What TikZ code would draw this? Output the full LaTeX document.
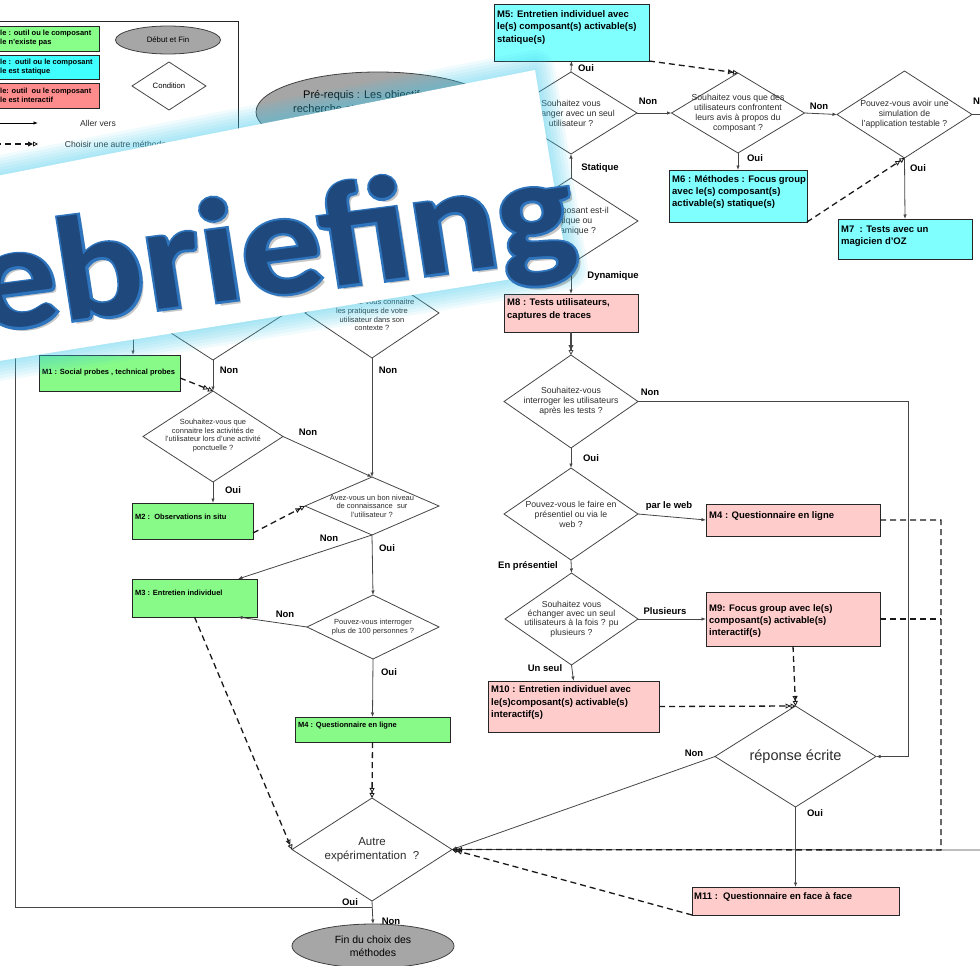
\documentclass[tikz,border=0pt]{standalone}
\usepackage{fontspec}
\setmainfont{Liberation Sans}
\newfontfamily\bannerfill{Carlito}
\newfontfamily\banneredge{Carlito}[BoldFeatures={FakeBold=3}]
\usetikzlibrary{arrows.meta, calc, shapes.geometric, positioning}

\definecolor{boxgreen}{RGB}{136,250,136}
\definecolor{boxcyan}{RGB}{128,255,255}
\definecolor{boxpink}{RGB}{255,204,204}
\definecolor{keygreen}{RGB}{136,255,136}
\definecolor{keycyan}{RGB}{64,255,255}
\definecolor{keyred}{RGB}{255,140,140}
\definecolor{ovalgray}{RGB}{166,166,166}
\definecolor{glowcyan}{RGB}{60,200,235}
\definecolor{bannerblue}{RGB}{31,73,125}
\definecolor{banneredgeblue}{RGB}{46,117,190}
\definecolor{inkgray}{RGB}{70,70,70}
\definecolor{qink}{RGB}{45,45,45}

\tikzset{
  cond/.style={diamond, draw=inkgray, line width=0.8pt, fill=white, inner sep=0pt, outer sep=0pt},
  qtext/.style={align=center, inner sep=0pt, text=qink, font=\fontsize{8.7}{10}\selectfont},
  qsmall/.style={align=center, inner sep=0pt, text=qink, font=\fontsize{7.5}{8.8}\selectfont},
  method/.style={rectangle, draw=black!85, line width=0.9pt, inner sep=0pt, outer sep=0pt},
  mtext/.style={anchor=north west, align=left, inner xsep=3pt, font=\bfseries\fontsize{9.5}{12.5}\selectfont},
  msmall/.style={anchor=north west, align=left, inner xsep=3pt, font=\bfseries\fontsize{7.5}{9}\selectfont},
  keytext/.style={anchor=west, align=left, inner sep=0pt, font=\bfseries\fontsize{7.5}{9}\selectfont},
  keylab/.style={inner sep=0pt, text=qink, font=\fontsize{8.6}{10}\selectfont},
  oval/.style={ellipse, draw=black!75, line width=0.8pt, fill=ovalgray, inner sep=0pt, outer sep=0pt},
  lab/.style={inner sep=0pt, font=\bfseries\fontsize{9.5}{11}\selectfont},
  flow/.style={draw=inkgray, line width=0.8pt, -{Latex[length=4.5pt, width=3.5pt]}},
  plain/.style={draw=inkgray, line width=0.8pt},
  other/.style={draw=black!90, line width=1.3pt, dash pattern=on 6pt off 4pt,
    -{Triangle[open, length=5pt, width=5pt, line width=0.8pt] Triangle[open, length=5pt, width=5pt, line width=0.8pt]}},
  otherline/.style={draw=black!90, line width=1.3pt, dash pattern=on 6pt off 4pt},
  othersolid/.style={draw=inkgray, line width=1.2pt,
    -{Triangle[open, length=5pt, width=5pt, line width=0.8pt] Triangle[open, length=5pt, width=5pt, line width=0.8pt]}},
  bannertext/.style={anchor=base west, inner sep=0pt, xscale=1.1, rotate=8},
}

\begin{document}
\begin{tikzpicture}[x=1pt, y=-1pt]
\useasboundingbox (0,0) rectangle (980,966);
\clip (0,0) rectangle (980,966);

% Legend
\draw[black!85, line width=0.8pt] (-5,21) rectangle (238,200);
\node[method, fill=keygreen, minimum width=106, minimum height=25] (kgreen) at (46,38.5) {};
\node[method, fill=keycyan, minimum width=106, minimum height=24] (kcyan) at (46,67) {};
\node[method, fill=keyred, minimum width=106, minimum height=25] (kred) at (46,95.5) {};
\node[keytext] (kgreentxt) at (0,38.5) {le : outil ou le composant\\le n'existe pas};
\node[keytext] (kcyantxt) at (0,67) {le :\ \ outil ou le composant\\le est statique};
\node[keytext] (kredtxt) at (0,95.5) {le: outil\ \ ou le composant\\le est interactif};
\node[oval, minimum width=105, minimum height=28, font=\fontsize{7.8}{9}\selectfont] (kstart) at (168,40) {Début et Fin};
\node[cond, minimum width=74, minimum height=48, font=\fontsize{7.7}{9}\selectfont] (kcond) at (169,86) {Condition};
\coordinate (ksolidA) at (-5,123);
\coordinate (ksolidB) at (38,123);
\draw[flow, draw=black] (ksolidA) -- (ksolidB);
\node[keylab] (kaller) at (98,123) {Aller vers};
\coordinate (kdashA) at (-5,144);
\coordinate (kdashB) at (38,144);
\draw[other] (kdashA) -- (kdashB);
\node[keylab] (kchoix) at (115.5,144) {Choisir une autre méthode};

% Pre-requis
\node[oval, minimum width=244, minimum height=80] (prereq) at (378,112) {};
\node[anchor=base west, inner sep=0pt, font=\fontsize{11}{13}\selectfont] (pretitle) at (303,99) {Pré-requis : Les objectifs de la};
\node[anchor=base west, inner sep=0pt, font=\fontsize{11}{13}\selectfont] (preline) at (293,112) {recherche et des};

% Right column: static / dynamic components
\node[method, fill=boxcyan, minimum width=155, minimum height=57,
  label={[mtext, inner ysep=6pt]north west:{M5: Entretien individuel avec\\le(s) composant(s) activable(s)\\statique(s)}}] (m5) at (571.5,32.5) {};
\node[cond, minimum width=132, minimum height=82,
  label={[qtext]center:{Souhaitez vous\\échanger avec un seul\\utilisateur ?}}] (dseul) at (571,113) {};
\node[cond, minimum width=133, minimum height=80,
  label={[qtext]center:{Souhaitez vous que des\\utilisateurs confrontent\\leurs avis à propos du\\composant ?}}] (dconfront) at (738,113) {};
\node[cond, minimum width=135, minimum height=87,
  label={[qtext]center:{Pouvez-vous avoir une\\simulation de\\l'application testable ?}}] (dsimul) at (904.5,114.5) {};
\node[method, fill=boxcyan, minimum width=138, minimum height=52,
  label={[mtext, inner ysep=5.5pt, font=\bfseries\fontsize{9.5}{12}\selectfont]north west:{M6 : Méthodes : Focus group\\avec le(s) composant(s)\\activable(s) statique(s)}}] (m6) at (738,196) {};
\node[method, fill=boxcyan, minimum width=134, minimum height=40,
  label={[mtext, inner ysep=6.5pt]north west:{M7\ \ : Tests avec un\\magicien d'OZ}}] (m7) at (905,239) {};
\node[cond, minimum width=134, minimum height=86,
  label={[qtext]center:{Le composant est-il\\statique ou\\dynamique ?}}] (dstat) at (571,221) {};

% Right column: interactive components
\node[method, fill=boxpink, minimum width=134, minimum height=38,
  label={[mtext, inner ysep=4.5pt]north west:{M8 : Tests utilisateurs,\\captures de traces}}] (m8) at (571,313) {};
\node[cond, minimum width=134, minimum height=93,
  label={[qtext]center:{Souhaitez-vous\\interroger les utilisateurs\\après les tests ?}}] (dinterr) at (571,401.5) {};
\node[cond, minimum width=134, minimum height=92,
  label={[qtext]center:{Pouvez-vous le faire en\\présentiel ou via le\\web ?}}] (dweb) at (571,514) {};
\node[method, fill=boxpink, minimum width=174, minimum height=32,
  label={[mtext, inner ysep=7.5pt]north west:{M4 : Questionnaire en ligne}}] (m4web) at (793,520) {};
\node[cond, minimum width=133, minimum height=92,
  label={[qtext, font=\fontsize{8.7}{9.3}\selectfont]center:{Souhaitez vous\\échanger avec un seul\\utilisateurs à la fois ? pu\\plusieurs ?}}] (dplus) at (571.5,619) {};
\node[method, fill=boxpink, minimum width=174, minimum height=54,
  label={[mtext, inner ysep=12.5pt, font=\bfseries\fontsize{9.5}{12}\selectfont]north west:{M9: Focus group avec le(s)\\composant(s) activable(s)\\interactif(s)}}] (m9) at (793,619) {};
\node[method, fill=boxpink, minimum width=171, minimum height=51,
  label={[mtext, inner ysep=4.5pt]north west:{M10 : Entretien individuel avec\\le(s)composant(s) activable(s)\\interactif(s)}}] (m10) at (573.5,706.5) {};
\node[cond, minimum width=161, minimum height=101,
  label={[qtext, font=\fontsize{14.5}{16}\selectfont]center:{réponse écrite}}] (drep) at (795.5,756.5) {};
\node[method, fill=boxpink, minimum width=207, minimum height=28,
  label={[mtext, inner ysep=5.5pt, inner xsep=2pt]north west:{M11 :\ \ Questionnaire en face à face}}] (m11) at (795.5,901) {};

% Left column
\node[cond, minimum width=140, minimum height=90] (dprobe) at (213,315) {};
\node[cond, minimum width=134, minimum height=90,
  label={[qsmall, yshift=-2pt]center:{Souhaitez-vous connaitre\\les pratiques de votre\\utilisateur dans son\\contexte ?}}] (dpratique) at (372,313) {};
\node[method, fill=boxgreen, minimum width=141, minimum height=36,
  label={[msmall, anchor=west]west:{M1 : Social probes , technical probes}}] (m1) at (109.5,373) {};
\node[cond, minimum width=140, minimum height=91,
  label={[qsmall, yshift=1pt]center:{Souhaitez-vous que\\connaitre les activités de\\l'utilisateur lors d'une activité\\ponctuelle ?}}] (dponct) at (213,436.5) {};
\node[method, fill=boxgreen, minimum width=121, minimum height=36,
  label={[msmall, inner ysep=11pt]north west:{M2 :\ \ Observations in situ}}] (m2) at (192.5,521) {};
\node[cond, minimum width=134, minimum height=58,
  label={[qsmall, font=\fontsize{7.5}{8.5}\selectfont]center:{Avez-vous un bon niveau\\de connaissance\ \ sur\\l'utilisateur ?}}] (dconn) at (372,506) {};
\node[method, fill=boxgreen, minimum width=125, minimum height=38,
  label={[msmall, inner ysep=11pt]north west:{M3 : Entretien individuel}}] (m3) at (194.5,598) {};
\node[cond, minimum width=132, minimum height=64,
  label={[qsmall, font=\fontsize{7.5}{8.5}\selectfont]center:{Pouvez-vous interroger\\plus de 100 personnes ?}}] (dcent) at (373,627) {};
\node[method, fill=boxgreen, minimum width=155, minimum height=25,
  label={[msmall, inner ysep=5pt]north west:{M4 : Questionnaire en ligne}}] (m4line) at (372.5,729.5) {};
\node[cond, minimum width=160, minimum height=103,
  label={[qtext, font=\fontsize{11.5}{14}\selectfont]center:{Autre\\expérimentation\ \ ?}}] (autre) at (372,849.5) {};
\node[oval, minimum width=162, minimum height=44, align=center, font=\fontsize{10.5}{13}\selectfont] (fin) at (373,946) {Fin du choix des\\méthodes};

% Free ends
\coordinate (simulout) at (990,114.5);
\coordinate (interrturn) at (908,756.5);
\coordinate (dashturn) at (941,850);
\coordinate (rightin) at (990,850);
\coordinate (loopleft) at (15,907);
\coordinate (loopup) at (15,330);
\coordinate (probein) at (133,322);

% Connectors, right
\draw[flow] (dseul.north) -- (m5.south);
\draw[other] (m5.south east) -- (dconfront.north);
\draw[flow] (dseul.east) -- (dconfront.west);
\draw[flow] (dconfront.east) -- (dsimul.west);
\draw[flow] (dconfront.south) -- (m6.north);
\draw[other] (m6.south east) -- (dsimul.south);
\draw[flow] (dsimul.south) -- (m7.north);
\draw[plain] (dsimul.east) -- (simulout);
\draw[flow] (dstat.north) -- (dseul.south);
\draw[flow] (dstat.south) -- (m8.north);
\draw[othersolid] (m8.south) -- (dinterr.north);
\draw[flow] (dinterr.east) -| (interrturn) -- (drep.east);
\draw[flow] (dinterr.south) -- (dweb.north);
\draw[flow] (dweb.east) -- (m4web.west);
\draw[flow] (dweb.south) -- (dplus.north);
\draw[flow] (dplus.east) -- (m9.west);
\draw[flow] (dplus.south) -- (m10.north);
\draw[flow] (rightin) -- (autre.east);
\draw[other] (m4web.east) -| (dashturn) -- (autre.east);
\draw[otherline] (m9.east) -- (m9.east -| dashturn);
\draw[other] (m9.south) -- (drep.north);
\draw[other] (m10.east) -- (drep.north);
\draw[flow] (drep.west) -- (autre.east);
\draw[flow] (drep.south) -- (m11.north);
\draw[other] (m11.south west) -- (autre.east);

% Connectors, left
\draw[flow] (dprobe.south) -- (dponct.north);
\draw[flow] (probein) -- (probein |- m1.north);
\draw[other] ([yshift=-5pt]m1.east) -- (dponct.north);
\draw[flow] (dpratique.south) -- (dconn.north);
\draw[flow] (dponct.east) -- (dconn.north);
\draw[flow] (dponct.south) -- (dponct.south |- m2.north);
\draw[other] ([yshift=6pt]m2.south east) -- (dconn.west);
\draw[flow] (dconn.south) -- ([xshift=-19pt]m3.north east);
\draw[flow] (dconn.south) -- (dcent.north);
\draw[flow] (dcent.west) -- ([xshift=-19pt]m3.south east);
\draw[flow] (dcent.south) -- (m4line.north);
\draw[other] (m4line.south) -- (autre.north);
\draw[other] (m3.south) -- (autre.west);
\draw[flow] (autre.south) -- (fin.north);
\draw[plain] (autre.south |- loopleft) -- (loopleft) -- (loopup);

% Branch labels
\node[lab] (lseuloui) at (586,68) {Oui};
\node[lab] (lseulnon) at (648,101) {Non};
\node[lab] (lconfnon) at (819,106) {Non};
\node[lab, anchor=west] (lsimulnon) at (973,101) {Non};
\node[lab] (lconfoui) at (755,158) {Oui};
\node[lab] (lsimuloui) at (918,168) {Oui};
\node[lab] (lstatique) at (600,168) {Statique};
\node[lab] (ldynamique) at (613,276) {Dynamique};
\node[lab] (linterrnon) at (650,392) {Non};
\node[lab] (linterroui) at (591,458) {Oui};
\node[lab] (lweb) at (669,506) {par le web};
\node[lab] (lpresentiel) at (528,566) {En présentiel};
\node[lab] (lplusieurs) at (665,611) {Plusieurs};
\node[lab] (lunseul) at (545,668) {Un seul};
\node[lab] (lrepnon) at (694,753) {Non};
\node[lab] (lrepoui) at (815,813) {Oui};
\node[lab] (lprobenon) at (229,370) {Non};
\node[lab] (lpratnon) at (388,370) {Non};
\node[lab] (lponctnon) at (308,432) {Non};
\node[lab] (lponctoui) at (233,490) {Oui};
\node[lab] (lconnnon) at (329,538) {Non};
\node[lab] (lconnoui) at (387,548) {Oui};
\node[lab] (lcentnon) at (285,614) {Non};
\node[lab] (lcentoui) at (389,672) {Oui};
\node[lab] (lautreoui) at (350,902) {Oui};
\node[lab] (lautrenon) at (391,921) {Non};

% Banner
\coordinate (bTL) at (-120,199);
\coordinate (bTR) at (535,70);
\coordinate (bBR) at (568,270);
\coordinate (bBL) at (-120,380);
\foreach \w in {40,34,...,4}
  \draw[glowcyan, line width=\w pt, opacity=0.08, line join=round] (bTL) -- (bTR) -- (bBR) -- (bBL) -- cycle;
\fill[white] (bTL) -- (bTR) -- (bBR) -- (bBL) -- cycle;
\node[bannertext, text=black, opacity=0.22, font=\bannerfill\bfseries\fontsize{148}{148}\selectfont] (bannershadow) at (-115,349) {Debriefing};
\node[bannertext, text=banneredgeblue, font=\banneredge\bfseries\fontsize{148}{148}\selectfont] (bannerrim) at (-119,345) {Debriefing};
\node[bannertext, text=bannerblue, font=\bannerfill\bfseries\fontsize{148}{148}\selectfont] (bannerword) at (-119,345) {Debriefing};
\end{tikzpicture}
\end{document}
